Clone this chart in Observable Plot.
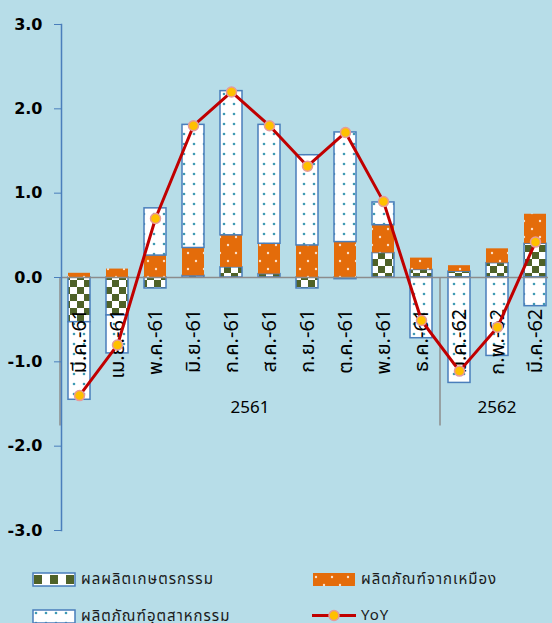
<!DOCTYPE html>
<html><head><meta charset="utf-8">
<script src="https://cdn.jsdelivr.net/npm/d3@7"></script>
<script src="https://cdn.jsdelivr.net/npm/@observablehq/plot@0.6"></script>
<style>
html,body{margin:0;padding:0;background:#b7dde8;}
body{width:552px;height:623px;overflow:hidden;position:relative;font-family:"Noto Sans Thai","Tahoma","DejaVu Sans",sans-serif;}
#legend{position:relative;height:73px;}
.item{position:absolute;display:flex;align-items:center;font-size:15px;color:#1a1a1a;letter-spacing:1px;white-space:nowrap;height:15px;}
.item svg{margin-right:5px;flex:none;}
</style></head><body>
<svg width="0" height="0" style="position:absolute">
<defs>
<pattern id="pat-agri" patternUnits="userSpaceOnUse" width="14" height="14">
 <rect width="14" height="14" fill="#ffffff"/>
 <rect width="7" height="7" fill="#4f6228"/>
 <rect x="7" y="7" width="7" height="7" fill="#4f6228"/>
</pattern>
<pattern id="pat-agri-leg" patternUnits="userSpaceOnUse" width="16" height="15">
 <rect width="16" height="15" fill="#ffffff"/>
 <rect x="2" y="3" width="8" height="9" fill="#4f6228"/>
</pattern>
<pattern id="pat-mining" patternUnits="userSpaceOnUse" width="16" height="16">
 <rect width="16" height="16" fill="#e46c0a"/>
 <circle cx="4" cy="5" r="1.2" fill="#fde0c8"/>
 <circle cx="12" cy="13" r="1.2" fill="#fde0c8"/>
</pattern>
<pattern id="pat-manuf" patternUnits="userSpaceOnUse" width="10" height="10">
 <rect width="10" height="10" fill="#ffffff"/>
 <circle cx="4" cy="4" r="1.3" fill="#3f9ab4"/>
</pattern>
</defs>
</svg>
<div id="chart"></div>
<div id="legend"></div>
<script>
const categories = ["มี.ค.-61","เม.ย.-61","พ.ค.-61","มิ.ย.-61","ก.ค.-61","ส.ค.-61","ก.ย.-61","ต.ค.-61","พ.ย.-61","ธ.ค.-61","ม.ค.-62","ก.พ.-62","มี.ค.-62"];
const agriculture   = [-0.53,-0.45,-0.13,0.02,0.12,0.04,-0.13,-0.02,0.29,0.09,0.07,0.17,0.40];
const mining        = [0.05,0.10,0.26,0.33,0.38,0.36,0.38,0.42,0.33,0.14,0.07,0.17,0.35];
const manufacturing = [-0.92,-0.45,0.56,1.46,1.71,1.41,1.07,1.30,0.27,-0.72,-1.25,-0.93,-0.34];
const yoy           = [-1.40,-0.80,0.70,1.80,2.20,1.80,1.32,1.72,0.90,-0.51,-1.11,-0.59,0.42];
const yTicks = [-3,-2,-1,0,1,2,3];
const years = ["2561","2562"];
const yearStart = [0,10];
const seriesKeys = ["agri","mining","manuf"];
const seriesLabels = ["ผลผลิตเกษตรกรรม","ผลิตภัณฑ์จากเหมือง","ผลิตภัณฑ์อุตสาหกรรม"];
const lineLabel = "YoY";

const seriesValues = {agri: agriculture, mining: mining, manuf: manufacturing};
const fills = {agri:"url(#pat-agri)", mining:"url(#pat-mining)", manuf:"url(#pat-manuf)"};
const legendFills = {agri:"url(#pat-agri-leg)", mining:"url(#pat-mining)", manuf:"url(#pat-manuf)"};
const strokes = {agri:"#4a7ebb", mining:"none", manuf:"#4a7ebb"};

const stacked = categories.flatMap((c,i) => seriesKeys.map(s => ({cat:c, series:s, value:seriesValues[s][i]})));
const yoyData = categories.map((c,i) => ({cat:c, value:yoy[i]}));
const yearGroups = years.map((y,k) => ({year:y, cats:categories.slice(yearStart[k], k+1 < yearStart.length ? yearStart[k+1] : categories.length)}));

const SEP_DEPTH = -1.76, YEAR_Y = -1.54, CAT_LABEL_Y = -0.37;

function groupMarks(index, scales, values, dimensions, context) {
  const x = scales.x, y = scales.y;
  const bw = typeof x.bandwidth === "function" ? x.bandwidth() : x.bandwidth;
  const step = typeof x.step === "function" ? x.step() : bw;
  const gap = (step - bw) / 2;
  const g = d3.create("svg:g");
  for (const grp of yearGroups) {
    const x0 = x(grp.cats[0]) - gap;
    g.append("line").attr("x1", x0).attr("x2", x0).attr("y1", y(0)).attr("y2", y(SEP_DEPTH))
      .attr("stroke", "#8c8c8c").attr("stroke-width", 1.5);
    const cx = d3.mean(grp.cats, c => x(c) + bw / 2);
    g.append("text").attr("x", cx).attr("y", y(YEAR_Y)).attr("dy", "0.35em")
      .attr("text-anchor", "middle").attr("font-size", 17).attr("fill", "#000").text(grp.year);
  }
  return g.node();
}

const chart = Plot.plot({
  width: 552, height: 550,
  marginTop: 24, marginBottom: 20, marginLeft: 61, marginRight: 4,
  style: {background: "transparent", overflow: "visible", fontFamily: "'Noto Sans Thai', Tahoma, 'DejaVu Sans', sans-serif", fontSize: "17px"},
  x: {type: "band", domain: categories, range: [60, 554], paddingInner: 0.42, paddingOuter: 0.21, axis: null},
  y: {domain: [-3, 3], axis: null, label: null},
  color: {type: "identity"},
  marks: [
    Plot.barY(stacked, {x: "cat", y: "value", fill: d => fills[d.series], stroke: d => strokes[d.series], strokeWidth: 1.5}),
    Plot.ruleY([0], {stroke: "#8c8c8c", strokeWidth: 1.5}),
    groupMarks,
    Plot.axisY({ticks: yTicks, label: null, tickFormat: d => d.toFixed(1), tickSize: 7, tickPadding: 12, stroke: "#4a7ebb", fill: "#000", fontSize: 16, fontWeight: "bold", fontFamily: "'DejaVu Sans', sans-serif"}),
    Plot.frame({anchor: "left", stroke: "#4a7ebb", strokeWidth: 1.5}),
    Plot.text(categories, {x: d => d, y: () => CAT_LABEL_Y, text: d => d, rotate: -90, textAnchor: "end", fontSize: 20, fill: "#000"}),
    Plot.line(yoyData, {x: "cat", y: "value", stroke: "#c00000", strokeWidth: 3}),
    Plot.dot(yoyData, {x: "cat", y: "value", r: 5, fill: "#ffc000", stroke: "#e69a9a", strokeWidth: 1.5})
  ]
});
document.getElementById("chart").appendChild(chart);

// legend
const legend = d3.select("#legend");
const pos = [{left:32, top:22}, {left:312, top:22}, {left:32, top:59}, {left:312, top:58}];
const entries = [
  {label: seriesLabels[0], kind: "agri"},
  {label: seriesLabels[1], kind: "mining"},
  {label: seriesLabels[2], kind: "manuf"},
  {label: lineLabel, kind: "line"}
];
entries.forEach((e, i) => {
  const it = legend.append("div").attr("class", "item").style("left", pos[i].left + "px").style("top", pos[i].top + "px");
  const s = it.append("svg").attr("width", 44).attr("height", 15);
  if (e.kind === "line") {
    s.append("line").attr("x1", 0).attr("x2", 44).attr("y1", 7.5).attr("y2", 7.5).attr("stroke", "#c00000").attr("stroke-width", 3);
    s.append("circle").attr("cx", 22).attr("cy", 7.5).attr("r", 5).attr("fill", "#ffc000").attr("stroke", "#e69a9a").attr("stroke-width", 1.5);
  } else {
    s.append("rect").attr("x", 1).attr("y", 1).attr("width", 42).attr("height", 13)
      .attr("fill", legendFills[e.kind]).attr("stroke", strokes[e.kind]).attr("stroke-width", 1.5);
  }
  it.append("span").text(e.label);
});
</script>
</body></html>
